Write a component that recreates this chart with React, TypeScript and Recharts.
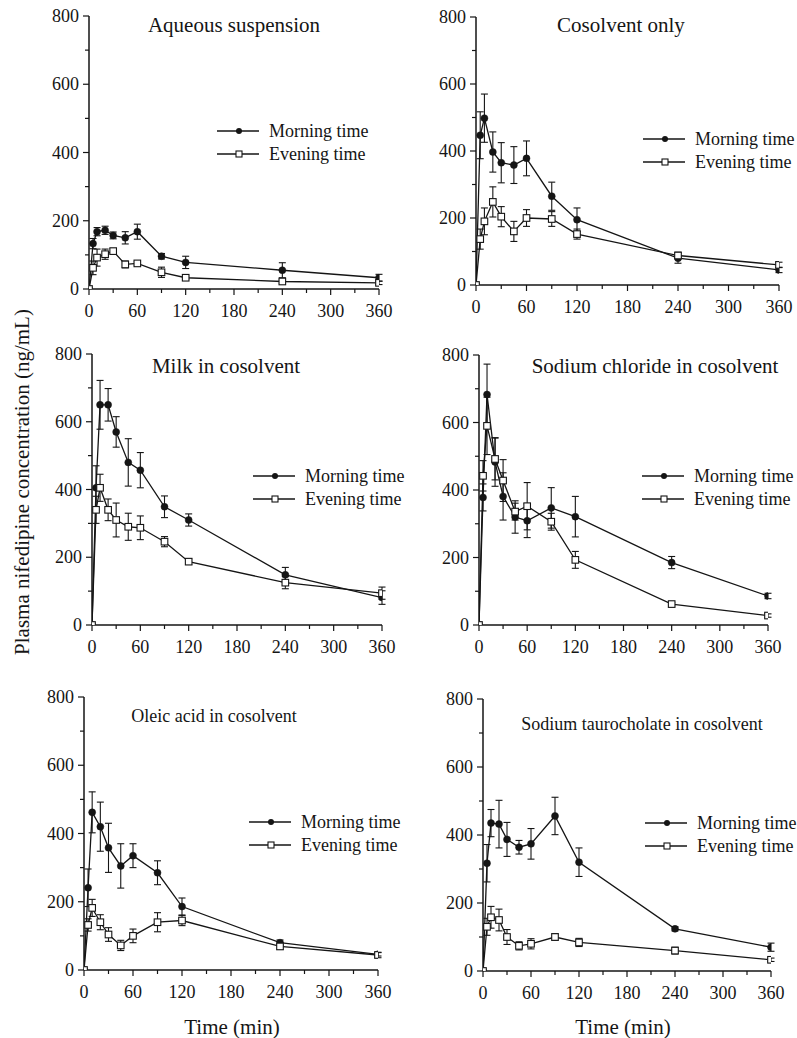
import React from 'react';
import { LineChart, Line, XAxis, YAxis, ErrorBar, Legend } from 'recharts';

const FONT = '"Liberation Serif", "Times New Roman", Times, serif';
const INK = '#151515';

// ---- shared axes / categories ----
const timesMin = [0, 5, 10, 20, 30, 45, 60, 90, 120, 240, 360];
const xTicks = [0, 30, 60, 90, 120, 150, 180, 210, 240, 270, 300, 330, 360];
const yTicks = [0, 100, 200, 300, 400, 500, 600, 700, 800];
const seriesNames = ['Morning time', 'Evening time'];
const panelTitles = [
  'Aqueous suspension',
  'Cosolvent only',
  'Milk in cosolvent',
  'Sodium chloride in cosolvent',
  'Oleic acid in cosolvent',
  'Sodium taurocholate in cosolvent',
];
const yAxisTitle = 'Plasma nifedipine concentration (ng/mL)';
const xAxisTitle = 'Time (min)';

// ---- values (ng/mL) ----
const aqueousMorning = [0, 133, 168, 172, 157, 150, 168, 96, 78, 55, 33];
const aqueousMorningErr = [0, 15, 12, 12, 10, 18, 22, 8, 18, 22, 10];
const aqueousEvening = [0, 62, 92, 102, 111, 72, 75, 49, 33, 22, 18];
const aqueousEveningErr = [0, 20, 25, 15, 8, 10, 5, 15, 5, 5, 5];

const cosolventMorning = [0, 447, 498, 397, 365, 358, 378, 265, 195, 80, 45];
const cosolventMorningErr = [0, 70, 72, 60, 60, 55, 52, 42, 35, 15, 8];
const cosolventEvening = [0, 137, 190, 248, 204, 160, 200, 197, 152, 88, 60];
const cosolventEveningErr = [0, 30, 40, 45, 30, 30, 25, 22, 15, 10, 8];

const milkMorning = [0, 405, 650, 650, 570, 480, 457, 349, 310, 148, 81];
const milkMorningErr = [0, 65, 72, 48, 45, 70, 52, 32, 18, 22, 20];
const milkEvening = [0, 340, 405, 340, 310, 290, 287, 246, 187, 125, 94];
const milkEveningErr = [0, 40, 40, 32, 50, 40, 35, 15, 8, 18, 18];

const naclMorning = [0, 378, 683, 483, 381, 320, 309, 347, 321, 185, 86];
const naclMorningErr = [0, 40, 90, 72, 70, 48, 50, 60, 60, 18, 8];
const naclEvening = [0, 442, 590, 492, 428, 336, 352, 306, 193, 62, 28];
const naclEveningErr = [0, 45, 85, 62, 62, 25, 70, 25, 25, 5, 5];

const oleicMorning = [0, 241, 462, 420, 358, 305, 335, 285, 186, 80, 46];
const oleicMorningErr = [0, 55, 60, 72, 72, 65, 35, 35, 25, 8, 5];
const oleicEvening = [0, 132, 182, 140, 104, 72, 100, 140, 145, 69, 44];
const oleicEveningErr = [0, 18, 25, 22, 20, 15, 20, 28, 15, 8, 8];

const tauroMorning = [0, 317, 435, 432, 387, 364, 374, 456, 320, 124, 70];
const tauroMorningErr = [0, 55, 40, 70, 50, 20, 45, 55, 42, 6, 12];
const tauroEvening = [0, 130, 158, 150, 100, 74, 80, 100, 84, 60, 33];
const tauroEveningErr = [0, 25, 32, 32, 22, 12, 15, 10, 12, 10, 5];

const buildRows = (m: number[], mE: number[], e: number[], eE: number[]) =>
  timesMin.map((t, i) => ({
    time: t,
    morning: m[i],
    morningErr: mE[i],
    evening: e[i],
    eveningErr: eE[i],
  }));

type PanelCfg = {
  title: string;
  titleX: number;
  titleY: number;
  titleSize: number;
  axisX: number;
  x360: number;
  yTop: number;
  y0: number;
  legendX: number;
  legendY: number;
  rows: ReturnType<typeof buildRows>;
};

const panels: PanelCfg[] = [
  { title: panelTitles[0], titleX: 234, titleY: 25, titleSize: 21, axisX: 89, x360: 379, yTop: 16, y0: 289, legendX: 217, legendY: 131,
    rows: buildRows(aqueousMorning, aqueousMorningErr, aqueousEvening, aqueousEveningErr) },
  { title: panelTitles[1], titleX: 621, titleY: 25, titleSize: 21, axisX: 476, x360: 779, yTop: 17, y0: 285, legendX: 643, legendY: 139,
    rows: buildRows(cosolventMorning, cosolventMorningErr, cosolventEvening, cosolventEveningErr) },
  { title: panelTitles[2], titleX: 226, titleY: 366, titleSize: 21, axisX: 92, x360: 382, yTop: 354, y0: 625, legendX: 253, legendY: 476,
    rows: buildRows(milkMorning, milkMorningErr, milkEvening, milkEveningErr) },
  { title: panelTitles[3], titleX: 655, titleY: 366, titleSize: 21, axisX: 479, x360: 768, yTop: 355, y0: 625, legendX: 642, legendY: 476,
    rows: buildRows(naclMorning, naclMorningErr, naclEvening, naclEveningErr) },
  { title: panelTitles[4], titleX: 214, titleY: 716, titleSize: 18, axisX: 84, x360: 378, yTop: 697, y0: 970, legendX: 249, legendY: 822,
    rows: buildRows(oleicMorning, oleicMorningErr, oleicEvening, oleicEveningErr) },
  { title: panelTitles[5], titleX: 642, titleY: 724, titleSize: 18, axisX: 483, x360: 771, yTop: 699, y0: 971, legendX: 645, legendY: 823,
    rows: buildRows(tauroMorning, tauroMorningErr, tauroEvening, tauroEveningErr) },
];

const XTick = (props: any) => {
  const { x, y, payload } = props;
  const v = payload.value as number;
  const major = v % 60 === 0;
  return (
    <g>
      <line x1={x} x2={x} y1={y} y2={y + (major ? 6 : 4)} stroke={INK} strokeWidth={1.2} />
      {major && (
        <text x={x} y={y + 28} textAnchor="middle" style={{ fontFamily: FONT, fontSize: 18 }} fill={INK}>
          {v}
        </text>
      )}
    </g>
  );
};

const YTick = (props: any) => {
  const { x, y, payload } = props;
  const v = payload.value as number;
  const major = v % 200 === 0;
  return (
    <g>
      <line x1={x - (major ? 6 : 4)} x2={x} y1={y} y2={y} stroke={INK} strokeWidth={1.2} />
      {major && (
        <text x={x - 10} y={y} textAnchor="end" dominantBaseline="central" style={{ fontFamily: FONT, fontSize: 18 }} fill={INK}>
          {v}
        </text>
      )}
    </g>
  );
};

const renderSquare = (p: any) => {
  const { cx, cy, index } = p;
  if (cx == null || cy == null) return <g key={`sq-${index}`} />;
  return (
    <rect key={`sq-${index}`} x={cx - 3.3} y={cy - 3.3} width={6.6} height={6.6} fill="#fff" stroke={INK} strokeWidth={1.1} />
  );
};

const LegendBox = () => (
  <div style={{ fontFamily: FONT, fontSize: 18, color: INK }}>
    {seriesNames.map((n, i) => (
      <div key={n} style={{ display: 'flex', alignItems: 'center', height: 23, whiteSpace: 'nowrap' }}>
        <svg width={42} height={12} style={{ display: 'block' }}>
          <line x1={0} x2={42} y1={6} y2={6} stroke={INK} strokeWidth={1.3} />
          {i === 0 ? (
            <circle cx={22} cy={6} r={3} fill={INK} />
          ) : (
            <rect x={19} y={3} width={6} height={6} fill="#fff" stroke={INK} strokeWidth={1.1} />
          )}
        </svg>
        <span style={{ marginLeft: 10, lineHeight: '23px' }}>{n}</span>
      </div>
    ))}
  </div>
);

function Panel({ cfg }: { cfg: PanelCfg }) {
  const Y_W = 50;
  const TOP = 10;
  const RIGHT = 22;
  const X_H = 45;
  const plotW = cfg.x360 - cfg.axisX;
  const plotH = cfg.y0 - cfg.yTop;
  const left = cfg.axisX - Y_W;
  const top = cfg.yTop - TOP;
  const width = plotW + Y_W + RIGHT;
  const height = plotH + TOP + X_H;
  return (
    <>
      <div style={{ position: 'absolute', left, top, width, height }}>
        <LineChart width={width} height={height} data={cfg.rows} margin={{ top: TOP, right: RIGHT, bottom: 0, left: 0 }}>
          <XAxis
            dataKey="time"
            type="number"
            domain={[0, 360]}
            ticks={xTicks}
            interval={0}
            height={X_H}
            tickSize={0}
            tickMargin={0}
            tickLine={false}
            axisLine={{ stroke: INK, strokeWidth: 1.5 }}
            tick={<XTick />}
            allowDataOverflow
          />
          <YAxis
            type="number"
            domain={[0, 800]}
            ticks={yTicks}
            interval={0}
            width={Y_W}
            tickSize={0}
            tickMargin={0}
            tickLine={false}
            axisLine={{ stroke: INK, strokeWidth: 1.5 }}
            tick={<YTick />}
            allowDataOverflow
          />
          <Legend
            layout="horizontal"
            verticalAlign="middle"
            align="center"
            content={() => <LegendBox />}
            wrapperStyle={{ left: cfg.legendX - left, top: cfg.legendY - top - 11.5, width: 'auto', height: 'auto' }}
          />
          <Line
            dataKey="morning"
            name={seriesNames[0]}
            stroke={INK}
            strokeWidth={1.3}
            dot={{ r: 3.5, fill: INK, stroke: INK, strokeWidth: 0.5 }}
            activeDot={false}
            isAnimationActive={false}
          >
            <ErrorBar dataKey="morningErr" width={3.5} stroke={INK} strokeWidth={1.1} direction="y" />
          </Line>
          <Line
            dataKey="evening"
            name={seriesNames[1]}
            stroke={INK}
            strokeWidth={1.3}
            dot={renderSquare}
            activeDot={false}
            isAnimationActive={false}
          >
            <ErrorBar dataKey="eveningErr" width={3.5} stroke={INK} strokeWidth={1.1} direction="y" />
          </Line>
        </LineChart>
      </div>
      <div
        style={{
          position: 'absolute',
          left: cfg.titleX,
          top: cfg.titleY,
          transform: 'translate(-50%, -50%)',
          whiteSpace: 'nowrap',
          fontFamily: FONT,
          fontSize: cfg.titleSize,
          lineHeight: 1,
          color: INK,
        }}
      >
        {cfg.title}
      </div>
    </>
  );
}

export default function App() {
  return (
    <div
      style={{
        position: 'absolute',
        left: 0,
        top: 0,
        width: 797,
        height: 1038,
        background: '#fff',
        overflow: 'hidden',
        fontFamily: FONT,
      }}
    >
      {panels.map((p) => (
        <Panel key={p.title} cfg={p} />
      ))}
      <div
        style={{
          position: 'absolute',
          left: 22,
          top: 482,
          transform: 'translate(-50%, -50%) rotate(-90deg)',
          whiteSpace: 'nowrap',
          fontSize: 21,
          lineHeight: 1,
          color: INK,
        }}
      >
        {yAxisTitle}
      </div>
      {[232, 623].map((cx) => (
        <div
          key={cx}
          style={{
            position: 'absolute',
            left: cx,
            top: 1027,
            transform: 'translate(-50%, -50%)',
            whiteSpace: 'nowrap',
            fontSize: 21,
            lineHeight: 1,
            color: INK,
          }}
        >
          {xAxisTitle}
        </div>
      ))}
    </div>
  );
}
